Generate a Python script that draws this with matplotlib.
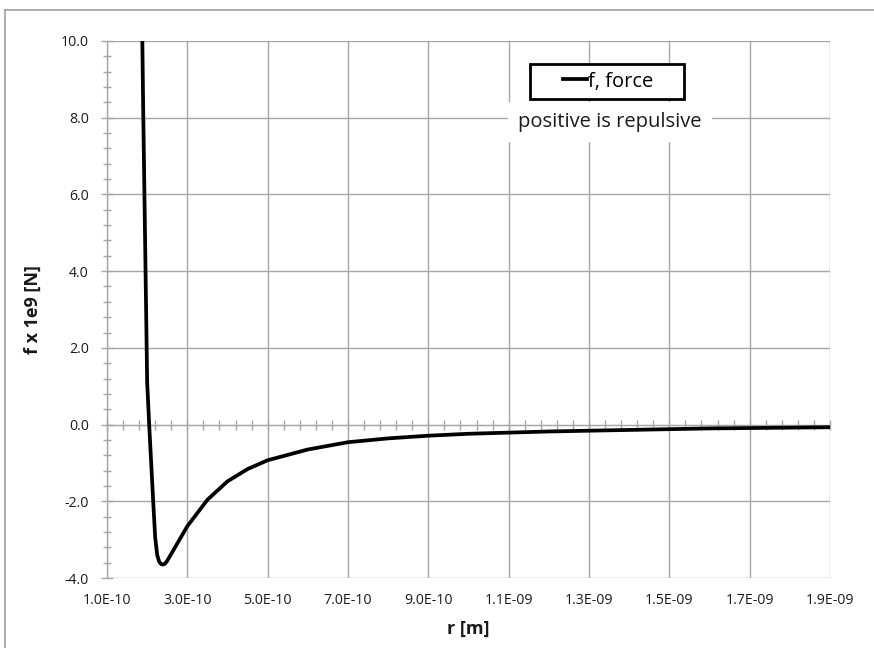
import numpy as np
import matplotlib.pyplot as plt
from matplotlib.ticker import FixedLocator, MultipleLocator, FuncFormatter
from matplotlib.lines import Line2D
from matplotlib.patches import Rectangle

plt.rcParams['font.family'] = ['Open Sans', 'DejaVu Sans']

# separation r [m] and force f x 1e9 [N]
r = np.array([1.85, 1.9, 2.0, 2.05, 2.1, 2.15, 2.2, 2.25, 2.3, 2.35, 2.4, 2.45, 2.5, 2.75,
              3.0, 3.5, 4.0, 4.5, 5.0, 6.0, 7.0, 8.0, 9.0, 10.0, 11.0, 12.0,
              13.0, 14.0, 15.0, 16.0, 17.0, 18.0, 19.0]) * 1e-10
f = np.array([12.5, 8.3, 1.1, 0.0, -1.0, -2.0, -2.95, -3.4, -3.58, -3.64, -3.65, -3.62, -3.55, -3.1,
              -2.65, -1.96, -1.48, -1.16, -0.93, -0.65, -0.46, -0.36, -0.29, -0.24, -0.21, -0.18,
              -0.16, -0.14, -0.12, -0.10, -0.09, -0.08, -0.07])

x_ticks = np.array([1, 3, 5, 7, 9, 11, 13, 15, 17, 19]) * 1e-10
x_minor = np.arange(1, 19.01, 0.4) * 1e-10

series_name = "f, force"
note = "positive is repulsive"

W, H = 874, 648
fig = plt.figure(figsize=(W / 100, H / 100), dpi=100)
ax = fig.add_axes([107 / W, 1 - 578 / H, (830 - 107) / W, (578 - 41) / H])

grid_c = '#a6a6a6'
text_c = '#1a1a1a'
ax.set_xlim(1e-10, 1.9e-9)
ax.set_ylim(-4, 10)
ax.xaxis.set_major_locator(FixedLocator(x_ticks))
ax.yaxis.set_major_locator(MultipleLocator(2))
ax.yaxis.set_minor_locator(MultipleLocator(0.4))
ax.grid(True, which='major', color=grid_c, lw=1.0)
ax.set_axisbelow(True)

for s in ['top', 'right', 'bottom']:
    ax.spines[s].set_visible(False)
ax.spines['left'].set_color(grid_c)
ax.spines['left'].set_linewidth(1.0)

ax.xaxis.set_major_formatter(FuncFormatter(lambda v, p: f"{v:.1E}"))
ax.yaxis.set_major_formatter(FuncFormatter(lambda v, p: f"{v:.1f}"))
ax.tick_params(axis='x', which='both', length=0, pad=11, labelsize=10.2, labelcolor=text_c)
ax.tick_params(axis='y', which='major', direction='inout', length=8, width=1,
               color=grid_c, pad=9, labelsize=10.2, labelcolor=text_c)
ax.tick_params(axis='y', which='minor', direction='inout', length=6, width=1, color=grid_c)

# horizontal axis crossing at f = 0
zero_ax = ax.secondary_xaxis(4 / 14)
zero_ax.spines['bottom'].set_color(grid_c)
zero_ax.xaxis.set_major_locator(FixedLocator(x_ticks))
zero_ax.xaxis.set_minor_locator(FixedLocator(x_minor))
zero_ax.tick_params(which='both', direction='inout', length=7, width=1, color=grid_c,
                    labelbottom=False)

ax.plot(r, f, color='black', lw=2.7, solid_joinstyle='round', zorder=3)

ax.set_xlabel("r [m]", fontsize=13, fontweight='bold', labelpad=8, color=text_c)
ax.set_ylabel("f x 1e9 [N]", fontsize=13, fontweight='bold', labelpad=14, color=text_c)

# note under the legend, on a white patch over the grid
fig.text(610 / W, 1 - 122 / H, note, ha='center', va='center', fontsize=14.5,
         color=text_c,
         bbox=dict(boxstyle='square,pad=0.5', fc='white', ec='none'), zorder=5)

# legend with a wide padded box
handle = Line2D([], [], color='black', lw=2.7)
leg = fig.legend([handle], [series_name], loc='center',
                 bbox_to_anchor=(608 / W, 1 - 81.5 / H),
                 fontsize=14.5, frameon=False, handlelength=1.2,
                 handletextpad=0.05, borderpad=0, borderaxespad=0)
leg.set_zorder(7)
fig.add_artist(Rectangle((530 / W, 1 - 99 / H), 154 / W, 35 / H, transform=fig.transFigure,
                         fc='white', ec='black', lw=2, zorder=6))

# chart area border
fig.add_artist(Line2D([5 / W, 1], [1 - 10 / H] * 2, color='#a0a0a0', lw=1.2))
fig.add_artist(Line2D([5 / W] * 2, [0, 1 - 10 / H], color='#a0a0a0', lw=1.2))

fig.savefig("out.png", dpi=100)
